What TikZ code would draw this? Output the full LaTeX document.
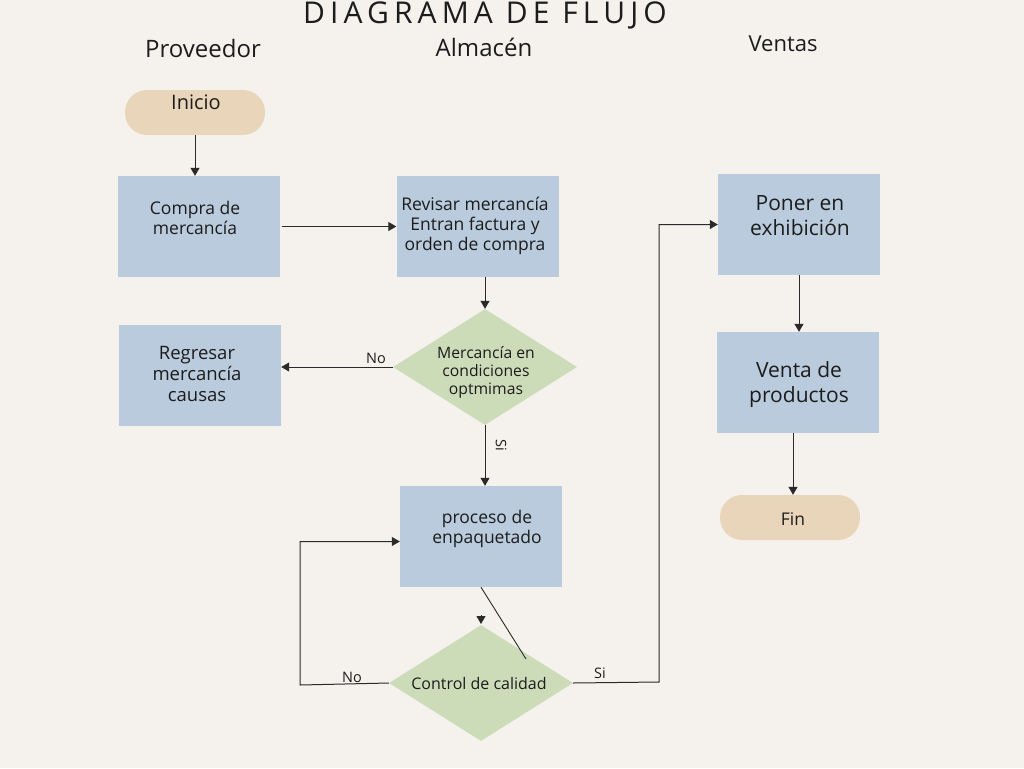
\documentclass[tikz,border=0pt]{standalone}
\usepackage{fontspec}
\setmainfont{Open Sans}
\newfontfamily\titlefont[LetterSpace=17]{Open Sans}
\usetikzlibrary{shapes.geometric,arrows.meta}
\definecolor{bg}{HTML}{F5F2EE}
\definecolor{boxblue}{HTML}{B9CBDD}
\definecolor{dgreen}{HTML}{CCDCB9}
\definecolor{tan}{HTML}{E8D5BA}
\definecolor{ink}{HTML}{1C1C1C}
\definecolor{linec}{HTML}{2A2A2A}
\tikzset{
  box/.style={rectangle, fill=boxblue, minimum width=162pt, minimum height=101pt, inner sep=0pt},
  term/.style={rectangle, rounded corners=22pt, fill=tan, minimum width=140pt, minimum height=45pt, inner sep=0pt},
  dec/.style={diamond, fill=dgreen, minimum width=184pt, minimum height=116pt, inner sep=0pt, aspect=1.59},
  txt/.style={text=ink, align=center, font=\fontsize{17.5}{20}\selectfont, inner sep=0pt},
  bigtxt/.style={text=ink, align=center, font=\fontsize{21}{25}\selectfont, inner sep=0pt},
  head/.style={text=ink, font=\fontsize{24}{28}\selectfont, inner sep=0pt},
  lbl/.style={text=ink, font=\fontsize{14.5}{16}\selectfont, inner sep=0pt},
  conn/.style={draw=linec, line width=1pt},
  arr/.style={conn, -{Triangle[length=8pt,width=9pt]}}
}
\begin{document}
\begin{tikzpicture}[x=1pt,y=-1pt]
\fill[bg] (0,0) rectangle (1024,768);
\useasboundingbox (0,0) rectangle (1024,768);

\node[text=ink, inner sep=0pt, font=\titlefont\fontsize{30}{32}\selectfont] (title) at (485,15) {DIAGRAMA DE FLUJO};
\node[head] (h1) at (203,49) {Proveedor};
\node[head] (h2) at (484,47) {Almacén};
\node[head, font=\fontsize{22}{26}\selectfont] (h3) at (783,44) {Ventas};

% shapes
\node[term] (inicio) at (195,112.5) {};
\node[txt, font=\fontsize{20}{22}\selectfont] (tinicio) at (196,102) {Inicio};

\node[box] (compra) at (198.5,226.5) {};
\node[txt] (tcompra) at (195,218) {Compra de\\mercancía};

\node[box] (revisar) at (477.5,226.5) {};
\node[txt] (trevisar) at (475,226) {Revisar mercancía\\Entran factura y\\orden de compra};

\node[dec] (d1) at (485,367) {};
\node[txt, font=\fontsize{15.7}{18}\selectfont] (td1) at (486,372) {Mercancía en\\condiciones\\optmimas};

\node[box] (regresar) at (200,375) {};
\node[txt, font=\fontsize{18.5}{21}\selectfont] (tregresar) at (197,374) {Regresar\\mercancía\\causas};

\node[box] (proceso) at (481,536.5) {};
\node[txt] (tproceso) at (487,529) {proceso de\\enpaquetado};

\node[dec] (d2) at (481,683) {};
\node[txt, font=\fontsize{16}{18}\selectfont] (td2) at (479,683) {Control de calidad};

\node[box] (poner) at (799,224.5) {};
\node[bigtxt] (tponer) at (800,216) {Poner en\\exhibición};

\node[box] (venta) at (798,382.5) {};
\node[bigtxt] (tventa) at (799,385) {Venta de\\productos};

\node[term] (fin) at (790,517.5) {};
\node[txt] (tfin) at (793,519) {Fin};

% connectors
\draw[arr] (inicio.south) -- (inicio.south |- compra.north);
\draw[arr] ([xshift=2pt]compra.east) -- (revisar.west |- compra.east);
\draw[arr] (d1.north |- revisar.south) -- (d1.north);
\draw[arr] (d1.west) -- (regresar.east |- d1.west);
\node[lbl] (lno1) at (376,358) {No};
\draw[arr] (d1.south) -- (d1.south |- proceso.north);
\node[lbl, rotate=-90] (lsi1) at (501,445) {Si};

\coordinate (diagend) at (526,659);
\draw[conn, line width=0.9pt] (proceso.south) -- (diagend);
\coordinate (tiptop) at (481,615);
\coordinate (tip) at (481,624);
\draw[arr] (tiptop) -- (tip);

\coordinate (loopcorner) at (300,685);
\draw[arr] (d2.west) -- (loopcorner) |- ([yshift=-5pt]proceso.west);
\node[lbl] (lno2) at (352,677) {No};

\coordinate (sicorner) at (659,682);
\draw[arr] (d2.east) -- (sicorner) |- (poner.west);
\node[lbl] (lsi2) at (600,673) {Si};

\draw[arr] (poner.south) -- (poner.south |- venta.north);
\draw[arr] ([xshift=-5pt]venta.south) -- ([xshift=3pt]fin.north);
\end{tikzpicture}
\end{document}
